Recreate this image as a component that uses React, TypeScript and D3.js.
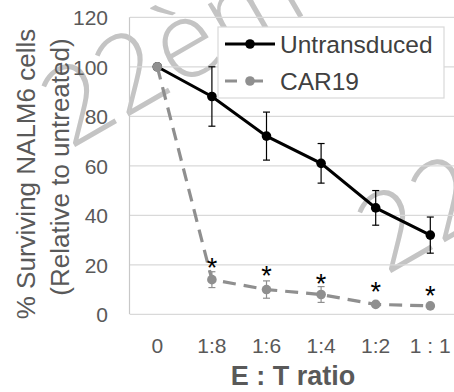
import React from "react";
import * as d3 from "d3";

const categories = ["0", "1:8", "1:6", "1:4", "1:2", "1 : 1"];
const untransduced = [100, 88, 72, 61, 43, 32];
const untransducedErr = [0, 12, 9.7, 8, 7, 7.3];
const car19 = [100, 14, 10, 8, 4, 3.4];
const car19Err = [0, 3.2, 3.5, 3.2, 0.5, 0.3];
const sigLevel = [null, 21.1, 17.9, 14.7, 11.4, 9.8];
const yTicks = [0, 20, 40, 60, 80, 100, 120];
const seriesNames = ["Untransduced", "CAR19"];
const watermark = ["22ème", "22"];

const W = 454;
const H = 392;
const FONT = "'Liberation Sans', Arial, sans-serif";

export default function App() {
  const x = d3.scaleBand<string>().domain(categories).range([130, 457.6]);
  const cx = (c: string) => (x(c) as number) + x.bandwidth() / 2;
  const y = d3.scaleLinear().domain([0, 120]).range([314.3, 17.3]);
  const line = d3
    .line<number>()
    .x((_, i) => cx(categories[i]))
    .y((d) => y(d));

  const blackC = "#000000";
  const grayC = "#8f8f8f";

  const errBars = (vals: number[], errs: number[], color: string) =>
    vals.map((v, i) =>
      errs[i] > 0 ? (
        <g key={i} stroke={color} strokeWidth={1.2}>
          <line x1={cx(categories[i])} x2={cx(categories[i])} y1={y(v + errs[i])} y2={y(v - errs[i])} />
          <line x1={cx(categories[i]) - 3.5} x2={cx(categories[i]) + 3.5} y1={y(v + errs[i])} y2={y(v + errs[i])} />
          <line x1={cx(categories[i]) - 3.5} x2={cx(categories[i]) + 3.5} y1={y(v - errs[i])} y2={y(v - errs[i])} />
        </g>
      ) : null
    );

  return (
    <svg
      width={W}
      height={H}
      style={{ position: "absolute", left: 0, top: 0, background: "#fff" }}
      fontFamily={FONT}
    >
      <rect width={W} height={H} fill="#fff" />
      {/* watermark */}
      <g fill="#c4c4c4" fontSize={108} fontFamily="'Open Sans', 'Liberation Sans', sans-serif" fontWeight={300}>
        <text transform="translate(70,150) rotate(-30)">{watermark[0]}</text>
        <text transform="translate(386,276) rotate(-30)">{watermark[1]}</text>
      </g>
      {/* gridlines */}
      {yTicks.map((t) => (
        <line key={t} x1={130} x2={W} y1={y(t)} y2={y(t)} stroke="#d9d9d9" strokeWidth={1.2} />
      ))}
      <line x1={129.5} x2={129.5} y1={y(120)} y2={y(0)} stroke="#c8c8c8" strokeWidth={1.2} />
      {/* y tick labels */}
      {yTicks.map((t) => (
        <text key={t} x={108} y={y(t) + 8} textAnchor="end" fontSize={21} fill="#595959">
          {t}
        </text>
      ))}
      {/* x tick labels */}
      {categories.map((c) => (
        <text key={c} x={cx(c)} y={353} textAnchor="middle" fontSize={21} fill="#595959">
          {c}
        </text>
      ))}
      <text x={293} y={385} textAnchor="middle" fontSize={27} fontWeight="bold" fill="#595959">
        E : T ratio
      </text>
      {/* y title */}
      <text transform="translate(35,174) rotate(-90)" textAnchor="middle" fontSize={26} fill="#595959">
        % Surviving NALM6 cells
      </text>
      <text transform="translate(69,167) rotate(-90)" textAnchor="middle" fontSize={26} fill="#595959">
        (Relative to untreated)
      </text>

      {/* Untransduced */}
      {errBars(untransduced, untransducedErr, blackC)}
      <path d={line(untransduced) as string} fill="none" stroke={blackC} strokeWidth={3} />
      {untransduced.map((v, i) => (
        <circle key={i} cx={cx(categories[i])} cy={y(v)} r={4.8} fill={blackC} />
      ))}
      {/* CAR19 */}
      {errBars(car19, car19Err, grayC)}
      <path d={line(car19) as string} fill="none" stroke={grayC} strokeWidth={3.2} strokeDasharray="13,8" />
      {car19.map((v, i) => (
        <circle key={i} cx={cx(categories[i])} cy={y(v)} r={4.8} fill={grayC} />
      ))}
      {/* significance */}
      {sigLevel.map((s, i) =>
        s == null ? null : (
          <text key={i} x={cx(categories[i])} y={y(s) + 15} textAnchor="middle" fontSize={27} fill="#000">
            *
          </text>
        )
      )}

      {/* legend */}
      <rect x={218} y={27} width={226} height={71} fill="#fff" stroke="#d9d9d9" strokeWidth={1.2} />
      <line x1={225} x2={275} y1={44} y2={44} stroke={blackC} strokeWidth={3} />
      <circle cx={250} cy={44} r={4.8} fill={blackC} />
      <text x={280} y={44} dy="0.35em" fontSize={24.5} fill="#404040">
        {seriesNames[0]}
      </text>
      <line x1={225} x2={275} y1={81} y2={81} stroke={grayC} strokeWidth={3.2} strokeDasharray="12,14" />
      <circle cx={250} cy={81} r={4.8} fill={grayC} />
      <text x={280} y={81} dy="0.35em" fontSize={24.5} fill="#404040">
        {seriesNames[1]}
      </text>
    </svg>
  );
}
